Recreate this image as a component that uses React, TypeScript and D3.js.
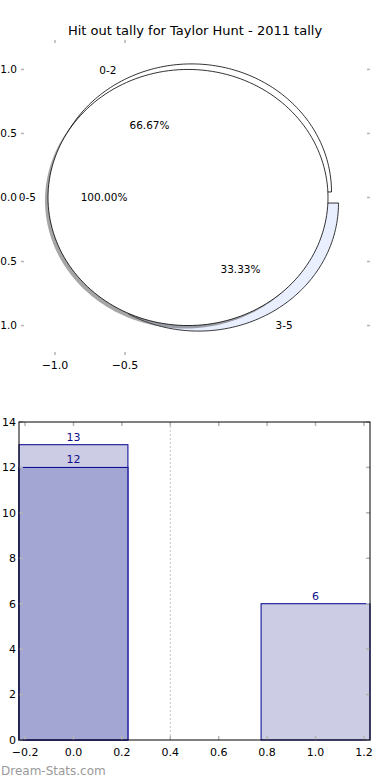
import { useEffect, useRef } from 'react';
import * as d3 from 'd3';

// pie data (two overlaid pies, like the original)
const innerLabels = ['0-2', '3-5'];
const innerPcts = [66.67, 33.33];
const outerLabels = ['0-5'];
const outerPcts = [100];
const pieXTicks = [-1.0, -0.5];
const pieYTicks = [-1.0, -0.5, 0.0, 0.5, 1.0];

// bar data
const barPositions = [0, 1];
const barTotals = [13, 6];
const barInner = [12, 0];
const barXTicks = [-0.2, 0.0, 0.2, 0.4, 0.6, 0.8, 1.0, 1.2];
const barYTicks = [0, 2, 4, 6, 8, 10, 12, 14];
const dividerAt = [0.4];

const FONT = 'DejaVu Sans, sans-serif';
const fmtTick = (v: number) => d3.format('.1f')(v).replace('-', '\u2212');

function App() {
    const svgRef = useRef<SVGSVGElement | null>(null);

    useEffect(() => {
        if (!svgRef.current) return;
        const svg = d3.select(svgRef.current);
        svg.selectAll('*').remove();

        const width = 390;
        const height = 780;
        svg.attr('width', width).attr('height', height);

        svg.append('rect').attr('width', width).attr('height', height).attr('fill', '#ffffff');

        svg.append('text')
            .attr('x', 195)
            .attr('y', 35)
            .attr('text-anchor', 'middle')
            .attr('font-family', FONT)
            .attr('font-size', '13px')
            .text('Hit out tally for Taylor Hunt - 2011 tally');

        // ---------- pie ----------
        const px = d3.scaleLinear().domain([-1.25, 1.25]).range([20, 370]);
        const py = d3.scaleLinear().domain([-1.23, 1.23]).range([355, 40]);
        const explode = 0.05;
        const tickCol = '#b5b5b5';

        const pieLayout = d3.pie<number>().sort(null).startAngle(0).endAngle(2 * Math.PI);
        const line = d3.line<[number, number]>().x(d => px(d[0])).y(d => py(d[1]));

        const wedgePath = (a0: number, a1: number, cx: number, cy: number, full: boolean) => {
            const steps = d3.range(0, 181).map(i => a0 + (a1 - a0) * i / 180);
            const pts: [number, number][] = steps.map(a => [cx + Math.cos(a), cy + Math.sin(a)]);
            if (!full) pts.unshift([cx, cy]), pts.push([cx, cy]);
            return line(pts) + 'Z';
        };

        const pies = [
            { values: innerPcts, labels: innerLabels, fills: ['#ffffff', '#e9efff'], shadow: false },
            { values: outerPcts, labels: outerLabels, fills: ['#ffffff'], shadow: true },
        ];

        // wedges first
        pies.forEach(p => {
            pieLayout(p.values).forEach((a, i) => {
                const mid = (a.startAngle + a.endAngle) / 2;
                const cx = explode * Math.cos(mid);
                const cy = explode * Math.sin(mid);
                const d = wedgePath(a.startAngle, a.endAngle, cx, cy, p.values.length === 1);
                if (p.shadow) {
                    svg.append('path')
                        .attr('d', d)
                        .attr('transform', 'translate(-3,3)')
                        .attr('fill', 'rgba(77,77,77,0.5)')
                        .attr('stroke', 'none');
                }
                svg.append('path')
                    .attr('d', d)
                    .attr('fill', p.fills[i])
                    .attr('stroke', '#000000')
                    .attr('stroke-width', 0.8);
            });
        });

        // then labels on top
        pies.forEach(p => {
            pieLayout(p.values).forEach((a, i) => {
                const mid = (a.startAngle + a.endAngle) / 2;
                const cx = explode * Math.cos(mid);
                const cy = explode * Math.sin(mid);
                const lx = cx + 1.1 * Math.cos(mid);
                const ly = cy + 1.1 * Math.sin(mid);
                svg.append('text')
                    .attr('x', px(lx) + (lx < 0 ? 2 : 0))
                    .attr('y', py(ly))
                    .attr('dy', '0.35em')
                    .attr('text-anchor', lx < 0 ? 'end' : 'start')
                    .attr('font-family', FONT)
                    .attr('font-size', '10.5px')
                    .text(p.labels[i]);
                svg.append('text')
                    .attr('x', px(cx + 0.6 * Math.cos(mid)))
                    .attr('y', py(cy + 0.6 * Math.sin(mid)))
                    .attr('dy', '0.35em')
                    .attr('text-anchor', 'middle')
                    .attr('font-family', FONT)
                    .attr('font-size', '10.5px')
                    .text(d3.format('.2f')(p.values[i]) + '%');
            });
        });

        // pie axis ticks (no frame)
        const [pl, pr] = px.range();
        const [pb, pt] = py.range();
        pieXTicks.forEach(t => {
            svg.append('line').attr('x1', px(t)).attr('x2', px(t)).attr('y1', pt).attr('y2', pt + 3)
                .attr('stroke', tickCol).attr('stroke-width', 1.5);
            svg.append('line').attr('x1', px(t)).attr('x2', px(t)).attr('y1', pb).attr('y2', pb - 3)
                .attr('stroke', tickCol).attr('stroke-width', 1.5);
            svg.append('text').attr('x', px(t)).attr('y', pb + 14)
                .attr('text-anchor', 'middle').attr('font-family', FONT).attr('font-size', '11px')
                .text(fmtTick(t));
        });
        pieYTicks.forEach(t => {
            svg.append('line').attr('x1', pl + 1).attr('x2', pl + 4).attr('y1', py(t)).attr('y2', py(t))
                .attr('stroke', tickCol).attr('stroke-width', 1.5);
            svg.append('line').attr('x1', pr).attr('x2', pr - 3).attr('y1', py(t)).attr('y2', py(t))
                .attr('stroke', tickCol).attr('stroke-width', 1.5);
            svg.append('text').attr('x', pl - 3).attr('y', py(t)).attr('dy', '0.35em')
                .attr('text-anchor', 'end').attr('font-family', FONT).attr('font-size', '10.5px')
                .text(fmtTick(t));
        });

        // ---------- bars ----------
        const x = d3.scaleLinear().domain([-0.225, 1.225]).range([19, 370]);
        const y = d3.scaleLinear().domain([0, 14]).range([740, 422]);
        const barW = 0.45;
        const navy = '#000090';

        dividerAt.forEach(v => {
            svg.append('line').attr('x1', x(v)).attr('x2', x(v)).attr('y1', y(14)).attr('y2', y(0))
                .attr('stroke', '#c8c8c8').attr('stroke-dasharray', '2,2');
        });

        const drawBars = (vals: number[], fill: string) => {
            barPositions.forEach((p, i) => {
                if (vals[i] <= 0) return;
                svg.append('rect')
                    .attr('x', x(p - barW / 2))
                    .attr('y', y(vals[i]))
                    .attr('width', x(p + barW / 2) - x(p - barW / 2))
                    .attr('height', y(0) - y(vals[i]))
                    .attr('fill', fill)
                    .attr('stroke', navy)
                    .attr('stroke-width', 1);
                svg.append('text')
                    .attr('x', x(p))
                    .attr('y', y(vals[i]) - 4)
                    .attr('text-anchor', 'middle')
                    .attr('font-family', FONT)
                    .attr('font-size', '11px')
                    .attr('fill', '#10108c')
                    .text(vals[i]);
            });
        };
        drawBars(barTotals, '#ccccE4');
        drawBars(barInner, '#a3a5d3');

        barXTicks.forEach(t => {
            svg.append('line').attr('x1', x(t)).attr('x2', x(t)).attr('y1', y(0)).attr('y2', y(0) - 4)
                .attr('stroke', tickCol).attr('stroke-width', 1.5);
            svg.append('line').attr('x1', x(t)).attr('x2', x(t)).attr('y1', y(14)).attr('y2', y(14) + 4)
                .attr('stroke', tickCol).attr('stroke-width', 1.5);
            svg.append('text').attr('x', x(t)).attr('y', y(0) + 16)
                .attr('text-anchor', 'middle').attr('font-family', FONT).attr('font-size', '11px')
                .text(fmtTick(t));
        });
        barYTicks.forEach(t => {
            svg.append('line').attr('x1', x.range()[0]).attr('x2', x.range()[0] + 4).attr('y1', y(t)).attr('y2', y(t))
                .attr('stroke', tickCol).attr('stroke-width', 1.5);
            svg.append('line').attr('x1', x.range()[1]).attr('x2', x.range()[1] - 4).attr('y1', y(t)).attr('y2', y(t))
                .attr('stroke', tickCol).attr('stroke-width', 1.5);
            svg.append('text').attr('x', x.range()[0] - 3).attr('y', y(t)).attr('dy', '0.35em')
                .attr('text-anchor', 'end').attr('font-family', FONT).attr('font-size', '11px')
                .text(t);
        });

        svg.append('rect')
            .attr('x', x.range()[0])
            .attr('y', y(14))
            .attr('width', x.range()[1] - x.range()[0])
            .attr('height', y(0) - y(14))
            .attr('fill', 'none')
            .attr('stroke', '#000000')
            .attr('stroke-width', 1);

        svg.append('text')
            .attr('x', 1)
            .attr('y', 775)
            .attr('font-family', FONT)
            .attr('font-size', '12px')
            .attr('fill', '#9a9a9a')
            .text('Dream-Stats.com');
    }, []);

    return (
        <svg ref={svgRef} style={{ position: 'absolute', left: 0, top: 0, display: 'block' }}></svg>
    );
}

export default App;
